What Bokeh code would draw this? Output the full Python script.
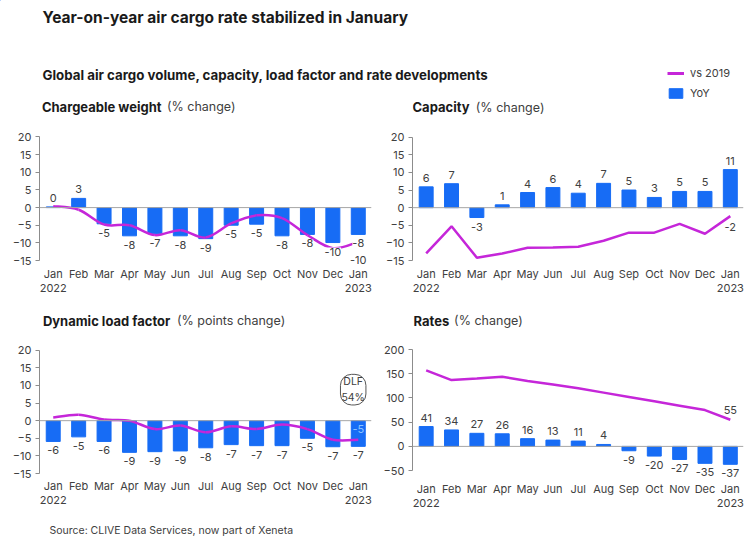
from bokeh.plotting import figure
from bokeh.models import (Range1d, FixedTicker, Span, LabelSet, Label,
                          ColumnDataSource, Legend, LegendItem)
from bokeh.core.properties import value
from bokeh.layouts import column, row
from bokeh.embed import file_html
from bokeh.resources import INLINE

# ---------------- data ----------------
months = ["Jan\n2022", "Feb", "Mar", "Apr", "May", "Jun", "Jul", "Aug",
          "Sep", "Oct", "Nov", "Dec", "Jan\n2023"]

cw_yoy = [0.2, 2.6, -4.6, -8.0, -7.4, -8.0, -8.8, -5.0, -4.7, -8.0, -7.6, -9.9, -7.6]
cw_vs19 = [0.4, -0.6, -4.8, -5.0, -7.8, -6.4, -8.5, -4.5, -2.2, -3.0, -7.8, -11.5, -9.7]

cap_yoy = [5.9, 6.8, -2.8, 0.8, 4.3, 5.7, 4.1, 6.9, 5.0, 2.9, 4.6, 4.6, 10.8]
cap_vs19 = [-13.0, -5.3, -14.2, -13.0, -11.4, -11.3, -11.1, -9.4, -7.1, -7.1, -4.6, -7.4, -2.4]

dlf_yoy = [-5.9, -4.6, -5.9, -9.0, -8.8, -8.6, -7.7, -6.8, -7.1, -7.1, -5.0, -7.4, -7.3]
dlf_vs19 = [0.9, 1.7, 0.3, 0.0, -2.4, -1.4, -3.3, -1.6, -2.4, -1.1, -2.4, -5.4, -5.4]

rates_yoy = [41, 34, 27, 26, 16, 13, 11, 4, -9, -20, -27, -35, -37]
rates_vs19 = [157, 137, 140, 144, 135, 128, 120, 111, 102, 93, 84, 75, 55]

pct_ticks = [-15, -10, -5, 0, 5, 10, 15, 20]
rate_ticks = [-50, 0, 50, 100, 150, 200]

# ---------------- styles ----------------
FONT = "Inter"
BLUE = "#176cf5"
MAGENTA = "#c526d9"
DARK = "#1a1a1a"
GRAY_TXT = "#404040"
AXIS = "#8c8c8c"


def smooth(p, xs, ys, **kw):
    # smoothed line (Catmull-Rom) drawn as cubic Bezier segments through the data points
    n = len(xs)
    d = dict(x0=[], y0=[], x1=[], y1=[], cx0=[], cy0=[], cx1=[], cy1=[])
    for i in range(n - 1):
        i0, i3 = max(i - 1, 0), min(i + 2, n - 1)
        d["x0"].append(xs[i]); d["y0"].append(ys[i])
        d["x1"].append(xs[i + 1]); d["y1"].append(ys[i + 1])
        d["cx0"].append(xs[i] + (xs[i + 1] - xs[i0]) / 6)
        d["cy0"].append(ys[i] + (ys[i + 1] - ys[i0]) / 6)
        d["cx1"].append(xs[i + 1] - (xs[i3] - xs[i]) / 6)
        d["cy1"].append(ys[i + 1] - (ys[i3] - ys[i]) / 6)
    p.bezier(x0="x0", y0="y0", x1="x1", y1="y1", cx0="cx0", cy0="cy0",
             cx1="cx1", cy1="cy1", source=ColumnDataSource(d), **kw)


def panel(width, left, right, height, ytop, ybot, ticks, ext, xstand,
          bars, line, title_b, title_r, t_x, t_r_x, t_y, smooth_line):
    vmin, vmax = ticks[0], ticks[-1]
    bottom = round(height - ybot - ext)
    frame_h = height - bottom
    k = (ybot - ytop) / (vmax - vmin)
    y_end = vmax + ytop / k
    y_start = vmin - (frame_h - ybot) / k
    p = figure(width=width, height=height, x_range=Range1d(-0.54, 12.52),
               y_range=Range1d(y_start, y_end), output_backend="svg",
               toolbar_location=None, min_border_left=left,
               min_border_right=right, min_border_top=0,
               min_border_bottom=bottom)
    p.outline_line_color = None
    p.xgrid.visible = False
    p.ygrid.visible = False

    xa = p.xaxis[0]
    xa.ticker = FixedTicker(ticks=list(range(len(months))))
    xa.major_label_overrides = {i: m for i, m in enumerate(months)}
    xa.axis_line_color = None
    xa.major_tick_line_color = None
    xa.minor_tick_line_color = None
    xa.major_tick_out = 0
    xa.major_tick_in = 0
    xa.major_label_standoff = xstand
    xa.major_label_text_font = FONT
    xa.major_label_text_font_size = "11px"
    xa.major_label_text_color = GRAY_TXT
    xa.major_label_text_line_height = 1.0

    ya = p.yaxis[0]
    ya.ticker = FixedTicker(ticks=ticks)
    ya.bounds = (vmin, vmax)
    ya.minor_tick_line_color = None
    ya.major_tick_out = 4
    ya.major_tick_in = 0
    ya.axis_line_color = AXIS
    ya.major_tick_line_color = AXIS
    ya.major_label_standoff = 4
    ya.major_label_text_font = FONT
    ya.major_label_text_font_size = "11px"
    ya.major_label_text_color = GRAY_TXT

    xs = list(range(len(months)))
    p.vbar(x=xs, top=bars, width=0.55, color=BLUE)
    p.add_layout(Span(location=0, dimension="width", line_color="#a6a6a6",
                      line_width=1))
    if smooth_line:
        smooth(p, xs, line, line_color=MAGENTA, line_width=2.5)
    else:
        p.line(x=xs, y=line, line_color=MAGENTA, line_width=2.5)

    src = ColumnDataSource(dict(
        x=xs, y=bars, t=[str(round(v)) for v in bars],
        off=[9 if v >= 0 else -9 for v in bars]))
    p.add_layout(LabelSet(x="x", y="y", text="t", y_offset="off", source=src,
                          text_align="center", text_baseline="middle",
                          text_font=value(FONT), text_font_size=value("11px"),
                          text_color=GRAY_TXT, background_fill_color="white"))

    p.add_layout(Label(x=-0.54, y=vmax, x_offset=t_x, y_offset=t_y,
                       text=title_b, text_font=FONT, text_font_style="bold",
                       text_font_size="13px", text_color=DARK,
                       text_baseline="middle"))
    p.add_layout(Label(x=-0.54, y=vmax, x_offset=t_r_x, y_offset=t_y,
                       text=title_r, text_font=FONT, text_font_size="12.5px",
                       text_color=GRAY_TXT, text_baseline="middle"))
    return p


tl = panel(380, 39, 9, 212, 36.7, 161, pct_ticks, 6, 0,
           cw_yoy, cw_vs19, "Chargeable weight", "(% change)", 2.4, 127.4, 30, True)
tr = panel(372, 32, 9, 212, 36.7, 160, pct_ticks, 6, 0,
           cap_yoy, cap_vs19, "Capacity", "(% change)", 0, 63.3, 30, False)
bl = panel(380, 39, 9, 210, 37.7, 161, pct_ticks, 4, 1,
           dlf_yoy, dlf_vs19, "Dynamic load factor", "(% points change)", 3.4, 137.4, 29.7, True)
br = panel(372, 32, 9, 210, 37.7, 161, rate_ticks, 7, 4,
           rates_yoy, rates_vs19, "Rates", "(% change)", 1, 41.6, 29, False)

# line value labels at the latest month
last = len(months) - 1
tl.add_layout(Label(x=last, y=cw_vs19[-1], y_offset=-18, text=str(round(cw_vs19[-1])),
                    text_align="center", text_baseline="middle", text_font=FONT,
                    text_font_size="11px", text_color=GRAY_TXT))
tr.add_layout(Label(x=last, y=cap_vs19[-1], y_offset=-11, text=str(round(cap_vs19[-1])),
                    text_align="center", text_baseline="middle", text_font=FONT,
                    text_font_size="11px", text_color=GRAY_TXT))
bl.add_layout(Label(x=last, y=dlf_vs19[-1], y_offset=11, text=str(round(dlf_vs19[-1])),
                    text_align="center", text_baseline="middle", text_font=FONT,
                    text_font_size="11px", text_color="#8cc3ff"))
br.add_layout(Label(x=last, y=rates_vs19[-1], y_offset=10, text=str(round(rates_vs19[-1])),
                    text_align="center", text_baseline="middle", text_font=FONT,
                    text_font_size="11px", text_color=GRAY_TXT))
bl.add_layout(Label(x=11.8, y=8.8, text="DLF\n54%", text_align="center",
                    text_baseline="middle", text_font=FONT, text_font_size="10.5px",
                    text_color=GRAY_TXT, border_line_color="#555555",
                    border_radius=11, padding=1, background_fill_color="white"))

# ---------------- header ----------------
hdr = figure(width=752, height=100, x_range=Range1d(0, 752), y_range=Range1d(100, 0),
             output_backend="svg", toolbar_location=None, min_border=0,
             x_axis_type=None, y_axis_type=None)
hdr.outline_line_color = None
hdr.xgrid.visible = False
hdr.ygrid.visible = False
hdr.add_layout(Label(x=42, y=17, text="Year-on-year air cargo rate stabilized in January",
                     text_font=FONT, text_font_style="bold", text_font_size="15.5px",
                     text_color=DARK, text_baseline="middle"))
hdr.add_layout(Label(x=42, y=74, text="Global air cargo volume, capacity, load factor and rate developments",
                     text_font=FONT, text_font_style="bold", text_font_size="13.3px",
                     text_color=DARK, text_baseline="middle"))
# legend swatch renderers (placed far outside the visible range; only their legend glyphs show)
r_line = hdr.line(x=[-5000, -4990], y=[-5000, -5000], line_color=MAGENTA, line_width=3)
r_bar = hdr.vbar(x=[-5000], top=[-4990], bottom=-5000, width=5, color=BLUE)
leg = Legend(items=[LegendItem(label="vs 2019", renderers=[r_line]),
                    LegendItem(label="YoY", renderers=[r_bar])],
             location=(667, 0), glyph_width=17, glyph_height=12, label_height=13,
             label_width=10, spacing=6, padding=0, margin=0, label_standoff=6,
             border_line_color=None, background_fill_alpha=0,
             label_text_font=FONT, label_text_font_size="11px",
             label_text_color=GRAY_TXT)
hdr.add_layout(leg)

# ---------------- footer ----------------
ftr = figure(width=752, height=18, x_range=Range1d(0, 752), y_range=Range1d(18, 0),
             output_backend="svg", toolbar_location=None, min_border=0,
             x_axis_type=None, y_axis_type=None)
ftr.outline_line_color = None
ftr.xgrid.visible = False
ftr.ygrid.visible = False
ftr.add_layout(Label(x=49, y=8, text="Source: CLIVE Data Services, now part of Xeneta",
                     text_font=FONT, text_font_size="10.5px", text_color=GRAY_TXT,
                     text_baseline="middle"))

layout = column(hdr, row(tl, tr, spacing=0), row(bl, br, spacing=0), ftr, spacing=0)
open("out.html", "w").write(file_html(layout, INLINE))
